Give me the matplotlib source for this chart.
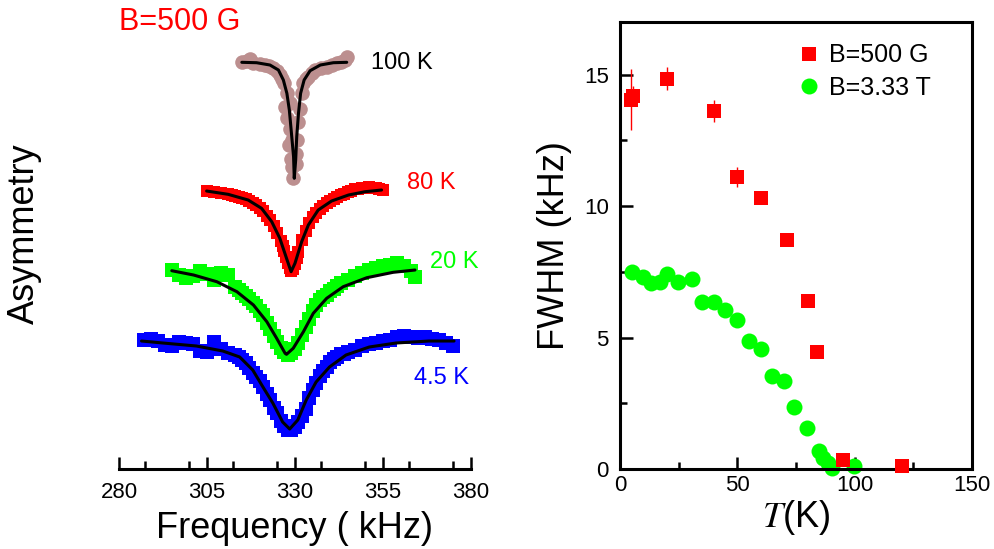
import matplotlib
matplotlib.use("Agg")
import matplotlib.pyplot as plt
from matplotlib.ticker import MultipleLocator

plt.rcParams["font.family"] = ["Liberation Sans", "DejaVu Sans"]
plt.rcParams["mathtext.fontset"] = "stix"

# --- left panel: muSR spectra at B=500 G (asymmetry, offset, arb. units) ---
freq_100k = [314.9, 316.5, 317.2, 318.2, 320.0, 321.5, 322.5, 323.8, 324.8, 325.7,
             326.3, 326.9, 327.8, 327.2, 327.8, 328.5, 328.6, 328.4, 329.1, 328.9,
             329.1, 329.3, 330.2, 330.3, 330.5, 330.9, 331.3, 331.9, 332.4, 333.1,
             333.8, 334.8, 335.7, 337.5, 339.0, 340.5, 341.8, 343.0, 344.2, 344.7]
asym_100k = [40.73, 40.8, 40.97, 40.63, 40.5, 40.4, 40.3, 40.07, 39.8, 39.4,
             39.0, 38.57, 37.57, 36.23, 35.07, 34.0, 36.57, 32.4, 32.9, 31.0,
             30.2, 29.07, 30.5, 31.5, 32.9, 34.73, 36.0, 37.57, 38.57, 39.0,
             39.23, 39.6, 39.9, 40.1, 40.23, 40.4, 40.57, 40.75, 40.9, 41.23]
fit_freq_100k = [314.9, 319.1, 322.9, 325.3, 326.7, 327.7, 328.4, 329.0, 329.6, 329.8,
                 330.2, 330.5, 331.0, 331.6, 332.6, 334.3, 337.2, 340.9, 344.7]
fit_asym_100k = [40.67, 40.63, 40.4, 39.9, 38.9, 37.57, 35.9, 33.57, 31.23, 29.07,
                 30.9, 33.23, 35.57, 37.57, 38.9, 39.83, 40.4, 40.63, 40.67]

freq_80k = [305, 307, 309, 311, 312, 313, 314, 315, 316, 317, 318, 319, 320, 321,
            322, 323, 324, 325, 326, 326.5, 327, 327.5, 328, 328.5, 329, 329.5, 330,
            330.5, 331, 332, 333, 334, 335, 336, 337, 338, 339, 340, 341, 342, 343,
            344, 345, 346, 347, 348, 349, 350, 351, 352, 353, 354, 355]
asym_80k = [27.8, 27.7, 27.6, 27.5, 27.4, 27.3, 27.2, 27.1, 27.0, 26.8, 26.6, 26.4,
            26.1, 25.8, 25.3, 24.9, 24.3, 23.6, 22.8, 22.3, 21.8, 21.2, 20.6, 20.1,
            19.8, 20.0, 20.5, 21.1, 21.7, 22.9, 23.8, 24.6, 25.2, 25.6, 26.0, 26.3,
            26.6, 26.8, 27.0, 27.2, 27.4, 27.55, 27.7, 27.85, 28.0, 28.05, 28.1, 28.15,
            28.2, 28.15, 28.1, 28.0, 27.9]
fit_freq_80k = [304.9, 311.0, 316.7, 320.5, 323.4, 325.7, 327.6, 328.9, 330.0, 331.9,
                333.8, 336.6, 340.4, 345.2, 349.9, 354.6]
fit_asym_80k = [27.8, 27.47, 26.9, 26.07, 24.73, 23.07, 21.07, 19.73, 20.57, 22.73,
                24.4, 25.9, 26.8, 27.4, 27.73, 27.9]

freq_20k = [295, 297, 299, 301, 303, 305, 307, 309, 311, 313, 314, 315, 316, 317,
            318, 319, 320, 321, 322, 323, 324, 325, 326, 327, 328, 329, 330, 331,
            332, 333, 334, 335, 336, 337, 338, 339, 340, 341, 342, 343, 345, 347,
            349, 351, 353, 355, 357, 359, 361, 363, 364]
asym_20k = [19.9, 19.4, 19.1, 19.3, 19.8, 19.5, 18.9, 19.6, 19.4, 18.2, 17.9, 17.6,
            17.3, 17.0, 16.6, 16.3, 15.8, 15.4, 14.6, 14.0, 13.3, 12.7, 12.1, 11.7,
            11.4, 11.6, 12.0, 12.6, 13.4, 14.2, 15.0, 15.8, 16.4, 16.9, 17.2, 17.4,
            17.8, 18.0, 18.3, 18.6, 18.9, 19.3, 19.6, 19.9, 20.1, 20.3, 20.4, 20.6,
            20.3, 19.8, 19.2]
fit_freq_20k = [295.0, 301.2, 307.8, 313.5, 318.2, 322.0, 324.8, 327.2, 327.6, 329.5,
                332.4, 335.2, 339.0, 343.7, 350.4, 357.9, 364.1]
fit_asym_20k = [19.83, 19.4, 18.73, 17.73, 16.4, 14.73, 13.07, 11.57, 11.47, 12.07,
                13.73, 15.57, 17.07, 18.23, 19.13, 19.67, 19.9]

freq_4k = [287, 289, 291, 293, 295, 297, 299, 301, 303, 305, 307, 309, 311, 313,
           314, 315, 316, 317, 318, 319, 320, 321, 322, 323, 324, 325, 326, 327,
           328, 329, 330, 331, 332, 333, 334, 335, 336, 337, 338, 339, 340, 341,
           342, 343, 344, 345, 347, 349, 351, 353, 355, 357, 359, 361, 363, 365,
           367, 369, 371, 373, 375]
asym_4k = [12.95, 13.0, 12.8, 12.4, 12.3, 12.7, 12.6, 12.5, 11.8, 11.7, 12.7, 12.0,
           11.6, 11.4, 11.2, 10.9, 10.6, 10.1, 9.6, 9.2, 8.8, 8.2, 7.5, 6.9, 6.1,
           5.6, 4.8, 4.3, 3.9, 3.9, 4.2, 4.7, 5.3, 6.0, 7.1, 7.9, 8.6, 9.3, 9.8,
           10.2, 10.7, 11.0, 11.2, 11.5, 11.5, 11.7, 11.9, 12.3, 12.5, 12.6, 12.8,
           12.9, 13.2, 13.3, 13.2, 13.1, 13.2, 13.0, 12.9, 12.6, 12.3]
fit_freq_4k = [286.4, 292.5, 302.0, 309.5, 314.3, 318.0, 320.9, 323.7, 326.5, 328.5,
               330.8, 333.2, 336.0, 339.8, 344.5, 351.1, 358.7, 368.1, 375.2]
fit_asym_4k = [12.8, 12.6, 12.3, 11.8, 11.2, 9.9, 8.2, 6.6, 4.7, 4.0,
               4.9, 6.9, 8.7, 10.2, 11.4, 12.2, 12.6, 12.8, 12.8]

temp_labels = ["100 K", "80 K", "20 K", "4.5 K"]
label_colors = ["black", "red", "#00ff00", "blue"]

# --- right panel: FWHM vs temperature ---
temp_500g = [4.5, 5.5, 20, 40, 50, 60, 71, 80, 84, 95, 120]
fwhm_500g = [14.05, 14.2, 14.85, 13.6, 11.1, 10.3, 8.7, 6.4, 4.45, 0.35, 0.1]
err_500g = [1.15, 0.35, 0.45, 0.42, 0.38, 0.1, 0.15, 0.05, 0.05, 0.05, 0.05]

temp_333t = [5.0, 9.9, 13.4, 17.0, 20.1, 24.8, 30.5, 35.1, 40.0, 44.9, 50.0, 55.0,
             59.9, 64.6, 70.1, 74.1, 79.8, 84.7, 86.4, 88.5, 90.4, 99.9]
fwhm_333t = [7.51, 7.29, 7.06, 7.13, 7.42, 7.10, 7.21, 6.34, 6.37, 6.06, 5.68, 4.85,
             4.56, 3.55, 3.33, 2.36, 1.56, 0.67, 0.42, 0.23, 0.04, 0.1]

fig = plt.figure(figsize=(9.94, 5.49), dpi=100)

# left panel
ax1 = fig.add_axes([0.1197, 0.1457, 0.3541, 0.8142])
ax1.plot(freq_100k, asym_100k, "o", color="#bc8f8f", ms=10.5, mew=0)
ax1.plot(freq_80k, asym_80k, "s", color="red", ms=9, mew=0)
ax1.plot(freq_20k, asym_20k, "s", color="#00ff00", ms=9.5, mew=0)
ax1.plot(freq_4k, asym_4k, "s", color="blue", ms=9.5, mew=0)
for fx, fy in [(fit_freq_100k, fit_asym_100k), (fit_freq_80k, fit_asym_80k),
               (fit_freq_20k, fit_asym_20k), (fit_freq_4k, fit_asym_4k)]:
    ax1.plot(fx, fy, color="black", lw=2.2, solid_capstyle="round")

label_pos = [(351.5, 40.6), (361.7, 28.6), (368.5, 20.7), (363.7, 9.1)]
for txt, col, (lx, ly) in zip(temp_labels, label_colors, label_pos):
    ax1.text(lx, ly, txt, color=col, fontsize=17, va="center", ha="left")

ax1.text(0.0, 1.0, "B=500 G", color="red", fontsize=22, va="center", ha="left",
         transform=ax1.transAxes)

ax1.set_xlim(280, 380)
ax1.set_ylim(0, 44.7)
for side in ["left", "right", "top"]:
    ax1.spines[side].set_visible(False)
ax1.spines["bottom"].set_linewidth(2.2)
ax1.set_yticks([])
ax1.set_xticks([280, 305, 330, 355, 380])
ax1.xaxis.set_minor_locator(MultipleLocator(12.5))
ax1.tick_params(axis="x", which="major", direction="in", length=9, width=1.8,
                labelsize=16, pad=9)
ax1.tick_params(axis="x", which="minor", direction="in", length=5.5, width=1.8)
ax1.set_xlabel("Frequency ( kHz)", fontsize=26)
ax1.xaxis.set_label_coords(0.5, -0.095)
ax1.set_ylabel("Asymmetry", fontsize=26)
ax1.yaxis.set_label_coords(-0.219, 0.526)

# right panel
ax2 = fig.add_axes([0.6237, 0.1457, 0.3541, 0.8142])
eb = ax2.errorbar(temp_500g, fwhm_500g, yerr=err_500g, fmt="s", color="red", ms=10,
                  mew=0, ecolor="red", elinewidth=1, capsize=4, capthick=1,
                  clip_on=False, zorder=3)
circles, = ax2.plot(temp_333t, fwhm_333t, "o", color="#00ff00", ms=11.5, mew=0,
                    clip_on=False, zorder=2)

ax2.set_xlim(0, 150)
ax2.set_ylim(0, 17)
for side in ax2.spines.values():
    side.set_linewidth(2.2)
ax2.xaxis.set_major_locator(MultipleLocator(50))
ax2.xaxis.set_minor_locator(MultipleLocator(25))
ax2.yaxis.set_major_locator(MultipleLocator(5))
ax2.yaxis.set_minor_locator(MultipleLocator(2.5))
ax2.tick_params(which="major", direction="in", length=9, width=1.8, labelsize=16)
ax2.tick_params(which="minor", direction="in", length=5, width=1.8)
ax2.tick_params(axis="y", pad=8)
ax2.tick_params(axis="x", pad=4)
ax2.set_xlabel("$T$(K)", fontsize=26)
ax2.xaxis.set_label_coords(0.5, -0.065)
ax2.set_ylabel("FWHM (kHz)", fontsize=26)
ax2.yaxis.set_label_coords(-0.135, 0.5)

ax2.legend([eb[0], circles], ["B=500 G", "B=3.33 T"], loc="upper left",
           bbox_to_anchor=(0.51, 0.952), frameon=False, fontsize=18,
           handlelength=0.8, handletextpad=0.4, borderpad=0, borderaxespad=0,
           labelspacing=0.35)

fig.savefig("out.png", dpi=100)
